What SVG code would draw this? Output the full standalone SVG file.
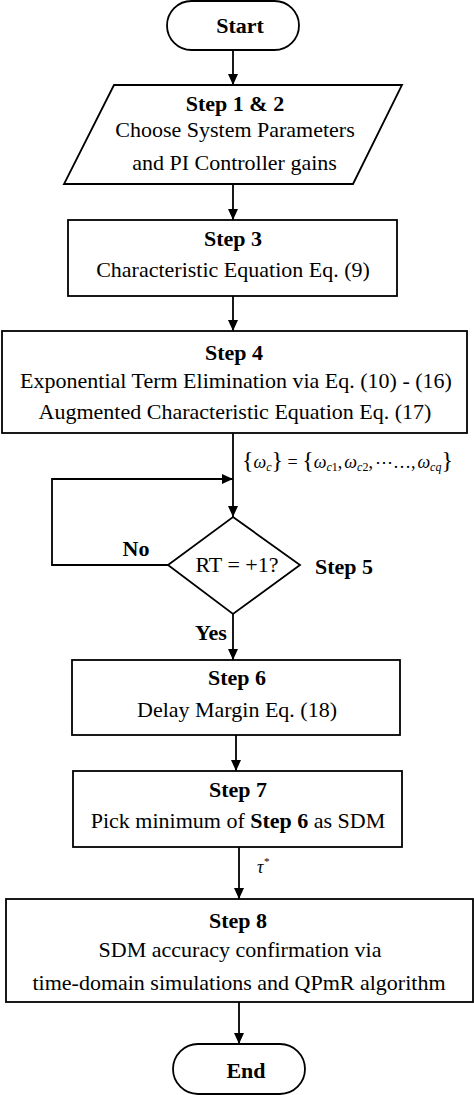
<svg xmlns="http://www.w3.org/2000/svg" width="474" height="1095" viewBox="0 0 474 1095">
<style>
.s{fill:#fff;stroke:#000;stroke-width:1.8}
.t{font-size:22px;fill:#000;text-anchor:middle}
.b{font-weight:bold}
.c{fill:none;stroke:#000;stroke-width:1.8}
.m{font-size:18px;fill:#000}
</style>
<defs>
<marker id="ah" markerUnits="userSpaceOnUse" markerWidth="11" markerHeight="10" refX="11" refY="5" orient="auto">
<path d="M0,0 L11,5 L0,10 z" fill="#000"/>
</marker>
</defs>
<rect width="474" height="1095" fill="#fff"/>
<g id="connectors">
<line class="c" x1="233" y1="50" x2="233" y2="85" marker-end="url(#ah)"/>
<line class="c" x1="233" y1="184" x2="233" y2="220" marker-end="url(#ah)"/>
<line class="c" x1="233" y1="296" x2="233" y2="331" marker-end="url(#ah)"/>
<line class="c" x1="233" y1="433" x2="233" y2="517" marker-end="url(#ah)"/>
<polyline class="c" points="168,565 52,565 52,479 233,479" marker-end="url(#ah)"/>
<line class="c" x1="233" y1="614" x2="233" y2="660" marker-end="url(#ah)"/>
<line class="c" x1="236" y1="735" x2="236" y2="771" marker-end="url(#ah)"/>
<line class="c" x1="239" y1="847" x2="239" y2="899" marker-end="url(#ah)"/>
<line class="c" x1="239" y1="1002" x2="239" y2="1044" marker-end="url(#ah)"/>
</g>
<g id="labels">
<text class="m" font-family="Liberation Serif" x="242" y="468"><tspan font-size="24">{</tspan><tspan font-style="italic">ω</tspan><tspan font-style="italic" font-size="12" dy="3">c</tspan><tspan font-size="24" dy="-3">}</tspan><tspan> = </tspan><tspan font-size="24">{</tspan><tspan font-style="italic">ω</tspan><tspan font-style="italic" font-size="12" dy="3">c</tspan><tspan font-size="12">1</tspan><tspan dy="-3">,</tspan><tspan font-style="italic" dx="2">ω</tspan><tspan font-style="italic" font-size="12" dy="3">c</tspan><tspan font-size="12">2</tspan><tspan dy="-3">,</tspan><tspan dx="2">⋯…,</tspan><tspan font-style="italic" dx="2">ω</tspan><tspan font-style="italic" font-size="12" dy="3">cq</tspan><tspan font-size="24" dy="-3">}</tspan></text>
<text class="t b" font-family="Liberation Serif" x="136" y="556">No</text>
<text class="t b" font-family="Liberation Serif" x="344" y="574">Step 5</text>
<text class="t b" font-family="Liberation Serif" x="211" y="640">Yes</text>
<text class="m" font-family="Liberation Serif" x="257" y="873" font-style="italic">τ<tspan font-size="11" dy="-8">*</tspan></text>
</g>
<g id="start">
<rect class="s" x="167" y="1" width="132" height="49" rx="24.5"/>
<text class="t b" font-family="Liberation Serif" x="240" y="33">Start</text>
</g>
<g id="step12">
<polygon class="s" points="114,85 402,85 353,184 64,184"/>
<text class="t b" font-family="Liberation Serif" x="235" y="111">Step 1 &amp; 2</text>
<text class="t" font-family="Liberation Serif" x="235" y="137">Choose System Parameters</text>
<text class="t" font-family="Liberation Serif" x="234.5" y="170">and PI Controller gains</text>
</g>
<g id="step3">
<rect class="s" x="68" y="220" width="329" height="76"/>
<text class="t b" font-family="Liberation Serif" x="233" y="246">Step 3</text>
<text class="t" font-family="Liberation Serif" x="233" y="277">Characteristic Equation Eq. (9)</text>
</g>
<g id="step4">
<rect class="s" x="2" y="331" width="465" height="102"/>
<text class="t b" font-family="Liberation Serif" x="234" y="360">Step 4</text>
<text class="t" font-family="Liberation Serif" x="236" y="388">Exponential Term Elimination via Eq. (10) - (16)</text>
<text class="t" font-family="Liberation Serif" x="235" y="419">Augmented Characteristic Equation Eq. (17)</text>
</g>
<g id="step5">
<polygon class="s" points="233,517 300,565 233,614 168,565"/>
<text class="t" font-family="Liberation Serif" x="237" y="572">RT = +1?</text>
</g>
<g id="step6">
<rect class="s" x="72" y="660" width="328" height="75"/>
<text class="t b" font-family="Liberation Serif" x="237" y="685">Step 6</text>
<text class="t" font-family="Liberation Serif" x="237" y="717">Delay Margin Eq. (18)</text>
</g>
<g id="step7">
<rect class="s" x="73" y="771" width="329" height="76"/>
<text class="t b" font-family="Liberation Serif" x="238" y="797">Step 7</text>
<text class="t" font-family="Liberation Serif" x="238" y="828">Pick minimum of <tspan class="b">Step 6</tspan> as SDM</text>
</g>
<g id="step8">
<rect class="s" x="6" y="899" width="467" height="103"/>
<text class="t b" font-family="Liberation Serif" x="238" y="928">Step 8</text>
<text class="t" font-family="Liberation Serif" x="240" y="957">SDM accuracy confirmation via</text>
<text class="t" font-family="Liberation Serif" x="239" y="990">time-domain simulations and QPmR algorithm</text>
</g>
<g id="end">
<rect class="s" x="173" y="1044" width="132" height="50" rx="25"/>
<text class="t b" font-family="Liberation Serif" x="246" y="1078">End</text>
</g>
</svg>
